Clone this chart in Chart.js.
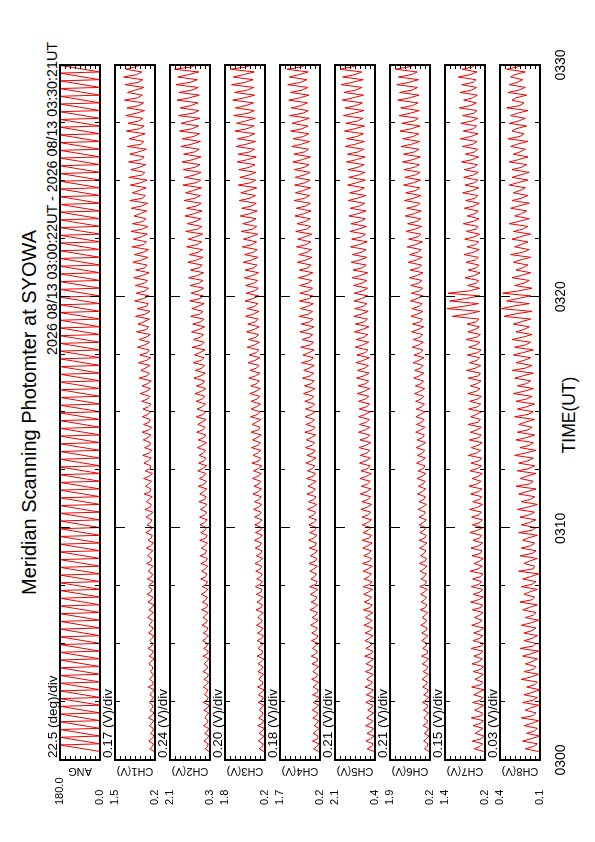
<!DOCTYPE html>
<html>
<head>
<meta charset="utf-8">
<script src="https://cdn.jsdelivr.net/npm/chart.js@4"></script>
<style>
  html, body { margin: 0; padding: 0; background: #fff; }
  body { width: 595px; height: 842px; overflow: hidden; position: relative; }
  /* the plot is laid out in landscape and turned onto the portrait page */
  #page { position: absolute; left: 0; top: 0; width: 842px; height: 595px;
          transform-origin: 0 0; transform: translate(0px, 842px) rotate(-90deg);
          font-family: "Liberation Sans", Arial, sans-serif; color: #000; }
  #page canvas { position: absolute; left: 0; }
  .txt { position: absolute; white-space: nowrap; }
  #title { left: 82px; width: 695px; top: 19px; text-align: center; font-size: 20px; line-height: 20px; }
  #period { left: 0; width: 800px; top: 45px; text-align: right; font-size: 14.3px; line-height: 14.3px; }
  #xtitle { left: 82px; width: 690px; top: 561px; text-align: center; font-size: 17.5px; line-height: 17.5px; }
</style>
</head>
<body>
<div id="page">
  <div class="txt" id="title">Meridian Scanning Photomter at SYOWA</div>
  <div class="txt" id="period">2026 08/13 03:00:22UT - 2026 08/13 03:30:21UT</div>
  <div class="txt" id="xtitle">TIME(UT)</div>
</div>
<script>
// Meridian scanning photometer - 30 min, one sweep every 20 s
const START_SEC = 22;   // first sample 03:00:22
const SWEEP_SEC = 20;
const RAMP_SEC = 17;    // 0 -> 180 deg, then fly back
const PEAK_OFF = 7;     // seconds into the sweep
const BUMP_OFF = 13;

const panelNames = ['ANG', 'CH1(V)', 'CH2(V)', 'CH3(V)', 'CH4(V)', 'CH5(V)', 'CH6(V)', 'CH7(V)', 'CH8(V)'];
const divLabels = ['22.5 (deg)/div', '0.17 (V)/div', '0.24 (V)/div', '0.20 (V)/div', '0.18 (V)/div',
                   '0.21 (V)/div', '0.21 (V)/div', '0.15 (V)/div', '0.03 (V)/div'];
const axisMin = [0.0, 0.2, 0.3, 0.2, 0.2, 0.4, 0.2, 0.2, 0.1];
const axisMax = [180.0, 1.5, 2.1, 1.8, 1.7, 2.1, 1.9, 1.4, 0.4];
const timeTicks = [0, 10, 20, 30];   // minutes after 03:00

// scan angle: start / end of each ramp (deg)
const angTurns = [0,180,0,180,0,180,0,180,0,180,0,180,0,180,0,180,0,180,0,180,
  0,180,0,180,0,180,0,180,0,180,0,180,0,180,0,180,0,180,0,180,
  0,180,0,180,0,180,0,180,0,180,0,180,0,180,0,180,0,180,0,180,
  0,180,0,180,0,180,0,180,0,180,0,180,0,180,0,180,0,180,0,180,
  0,180,0,180,0,180,0,180,0,180,0,180,0,180,0,180,0,180,0,180,
  0,180,0,180,0,180,0,180,0,180,0,180,0,180,0,180,0,180,0,180,
  0,180,0,180,0,180,0,180,0,180,0,180,0,180,0,180,0,180,0,180,
  0,180,0,180,0,180,0,180,0,180,0,180,0,180,0,180,0,180,0,180,
  0,180,0,180,0,180,0,180,0,180,0,180,0,180,0,180,0,180,0,180];

// base (sweep start), peak and secondary bump of each sweep, volts
const ch1Peak = [0.37,0.40,0.35,0.38,0.41,0.36,0.39,0.37,0.42,0.38,0.36,0.40,0.39,0.43,0.37,
  0.41,0.39,0.44,0.40,0.43,0.46,0.41,0.45,0.42,0.47,0.44,0.48,0.43,0.50,0.46,
  0.49,0.53,0.48,0.55,0.51,0.57,0.52,0.56,0.60,0.54,0.58,0.62,0.57,0.61,0.59,
  0.63,0.68,0.62,0.71,0.66,0.74,0.69,0.77,0.72,0.80,0.75,0.83,0.78,0.86,0.81,
  0.84,0.89,0.83,0.92,0.87,0.95,0.90,0.98,0.93,0.88,0.97,1.02,0.94,1.00,1.05,
  0.99,1.06,1.02,1.10,1.04,1.13,1.08,1.15,1.11,1.19,1.09,1.17,1.22,1.14,1.20];
const ch1Bump = [0.29,0.31,0.27,0.30,0.32,0.28,0.31,0.29,0.27,0.31,0.28,0.33,0.29,0.31,0.30,
  0.31,0.33,0.35,0.30,0.32,0.34,0.36,0.31,0.35,0.33,0.37,0.34,0.32,0.36,0.35,
  0.37,0.35,0.40,0.36,0.41,0.38,0.35,0.42,0.39,0.37,0.43,0.40,0.38,0.44,0.41,
  0.44,0.48,0.43,0.46,0.51,0.47,0.45,0.53,0.49,0.47,0.56,0.51,0.48,0.58,0.52,
  0.55,0.60,0.53,0.63,0.58,0.56,0.65,0.61,0.58,0.68,0.63,0.60,0.71,0.66,0.62,
  0.70,0.66,0.74,0.64,0.78,0.70,0.73,0.81,0.72,0.77,0.84,0.75,0.80,0.87,0.78];
const ch1Base = [0.23,0.25,0.22,0.26,0.24,0.23,0.27,0.25,0.22,0.26,0.24,0.28,0.23,0.25,0.27,
  0.24,0.26,0.28,0.25,0.23,0.27,0.29,0.25,0.28,0.26,0.30,0.27,0.25,0.29,0.28,
  0.30,0.27,0.32,0.29,0.33,0.31,0.28,0.34,0.32,0.30,0.35,0.33,0.31,0.36,0.34,
  0.33,0.37,0.35,0.32,0.38,0.36,0.34,0.39,0.37,0.35,0.41,0.38,0.36,0.42,0.39,
  0.41,0.44,0.39,0.46,0.43,0.41,0.48,0.45,0.43,0.50,0.47,0.44,0.52,0.49,0.46,
  0.53,0.50,0.55,0.48,0.57,0.52,0.55,0.59,0.54,0.57,0.61,0.56,0.60,0.63,0.58];

const ch2Peak = [0.52,0.57,0.54,0.59,0.53,0.58,0.61,0.55,0.60,0.57,0.62,0.56,0.61,0.59,0.63,
  0.60,0.66,0.62,0.68,0.64,0.70,0.65,0.72,0.67,0.71,0.74,0.69,0.76,0.72,0.75,
  0.77,0.73,0.80,0.76,0.83,0.78,0.85,0.81,0.79,0.87,0.83,0.90,0.85,0.92,0.88,
  0.93,0.98,0.91,1.02,0.96,1.06,1.00,1.10,1.04,1.13,1.08,1.17,1.12,1.21,1.15,
  1.20,1.26,1.18,1.30,1.24,1.35,1.28,1.39,1.32,1.43,1.36,1.47,1.40,1.52,1.45,
  1.50,1.56,1.49,1.61,1.55,1.67,1.60,1.72,1.64,1.78,1.70,1.83,1.75,1.90,1.82];
const ch2Bump = [0.42,0.45,0.40,0.44,0.46,0.41,0.43,0.45,0.47,0.42,0.45,0.46,0.41,0.44,0.48,
  0.45,0.48,0.50,0.46,0.49,0.52,0.47,0.50,0.53,0.48,0.51,0.54,0.49,0.52,0.55,
  0.53,0.56,0.54,0.59,0.55,0.58,0.62,0.57,0.60,0.64,0.58,0.62,0.66,0.60,0.65,
  0.64,0.68,0.62,0.72,0.66,0.70,0.76,0.68,0.74,0.80,0.71,0.77,0.83,0.74,0.81,
  0.78,0.85,0.79,0.90,0.82,0.88,0.95,0.86,0.93,1.00,0.89,0.97,1.04,0.93,1.01,
  0.98,1.06,0.99,1.12,1.03,1.10,1.18,1.07,1.15,1.23,1.11,1.20,1.28,1.15,1.24];
const ch2Base = [0.35,0.38,0.34,0.37,0.39,0.36,0.35,0.38,0.40,0.36,0.37,0.39,0.35,0.38,0.41,
  0.37,0.39,0.42,0.38,0.40,0.43,0.39,0.41,0.44,0.40,0.42,0.45,0.41,0.43,0.46,
  0.42,0.45,0.43,0.47,0.44,0.46,0.49,0.45,0.48,0.50,0.46,0.49,0.52,0.48,0.51,
  0.50,0.53,0.49,0.55,0.51,0.54,0.57,0.52,0.56,0.59,0.54,0.58,0.61,0.56,0.60,
  0.58,0.62,0.59,0.65,0.61,0.64,0.68,0.63,0.67,0.71,0.65,0.70,0.73,0.68,0.72,
  0.70,0.75,0.71,0.78,0.73,0.77,0.81,0.75,0.80,0.84,0.78,0.83,0.87,0.80,0.85];

const ch3Peak = [0.43,0.47,0.44,0.49,0.45,0.42,0.48,0.46,0.50,0.44,0.49,0.47,0.52,0.48,0.51,
  0.50,0.54,0.49,0.56,0.52,0.55,0.58,0.53,0.57,0.60,0.55,0.59,0.62,0.58,0.61,
  0.61,0.66,0.62,0.68,0.64,0.70,0.66,0.72,0.68,0.74,0.70,0.76,0.72,0.78,0.75,
  0.76,0.81,0.77,0.85,0.80,0.88,0.83,0.91,0.86,0.94,0.89,0.98,0.92,1.00,0.95,
  0.97,1.03,0.99,1.07,1.02,1.11,1.06,1.15,1.09,1.19,1.13,1.23,1.17,1.27,1.21,
  1.25,1.31,1.27,1.36,1.30,1.40,1.34,1.45,1.38,1.49,1.42,1.54,1.47,1.58,1.52];
const ch3Bump = [0.31,0.34,0.32,0.30,0.33,0.35,0.32,0.34,0.31,0.36,0.33,0.35,0.32,0.37,0.34,
  0.34,0.37,0.39,0.35,0.38,0.36,0.40,0.37,0.39,0.42,0.37,0.40,0.43,0.38,0.41,
  0.42,0.46,0.43,0.47,0.44,0.48,0.46,0.43,0.50,0.47,0.51,0.46,0.53,0.49,0.54,
  0.51,0.55,0.52,0.58,0.54,0.60,0.55,0.62,0.57,0.64,0.59,0.66,0.61,0.68,0.62,
  0.64,0.69,0.63,0.73,0.67,0.72,0.77,0.69,0.76,0.81,0.73,0.80,0.85,0.77,0.83,
  0.82,0.89,0.81,0.94,0.86,0.92,0.98,0.88,0.96,1.02,0.91,0.99,1.06,0.95,1.03];
const ch3Base = [0.24,0.27,0.25,0.23,0.26,0.28,0.25,0.27,0.24,0.29,0.26,0.28,0.25,0.30,0.27,
  0.26,0.29,0.31,0.27,0.30,0.28,0.32,0.29,0.31,0.33,0.29,0.32,0.34,0.30,0.33,
  0.32,0.35,0.33,0.36,0.34,0.37,0.35,0.33,0.38,0.36,0.39,0.35,0.40,0.37,0.41,
  0.38,0.41,0.39,0.43,0.40,0.44,0.41,0.45,0.42,0.46,0.43,0.47,0.44,0.48,0.45,
  0.47,0.50,0.46,0.52,0.48,0.51,0.54,0.49,0.53,0.56,0.51,0.55,0.58,0.53,0.57,
  0.56,0.60,0.55,0.62,0.58,0.61,0.64,0.59,0.63,0.66,0.61,0.65,0.68,0.63,0.67];

const ch4Peak = [0.44,0.48,0.45,0.42,0.47,0.49,0.45,0.48,0.46,0.51,0.47,0.50,0.53,0.48,0.52,
  0.51,0.55,0.50,0.57,0.53,0.56,0.59,0.54,0.58,0.61,0.56,0.60,0.63,0.59,0.62,
  0.62,0.67,0.63,0.69,0.65,0.71,0.67,0.73,0.69,0.75,0.71,0.77,0.73,0.76,0.74,
  0.77,0.82,0.78,0.86,0.81,0.89,0.84,0.92,0.87,0.95,0.90,0.98,0.93,0.97,0.95,
  0.96,1.01,0.97,1.05,1.00,1.08,1.03,1.11,1.06,1.14,1.09,1.17,1.12,1.15,1.13,
  1.16,1.22,1.18,1.26,1.21,1.30,1.25,1.34,1.28,1.37,1.31,1.41,1.35,1.44,1.38];
const ch4Bump = [0.32,0.30,0.34,0.31,0.33,0.36,0.32,0.30,0.35,0.33,0.37,0.32,0.36,0.38,0.33,
  0.36,0.40,0.35,0.39,0.37,0.41,0.36,0.40,0.43,0.38,0.41,0.37,0.44,0.40,0.43,
  0.43,0.47,0.42,0.46,0.49,0.45,0.48,0.52,0.46,0.50,0.53,0.47,0.51,0.54,0.50,
  0.53,0.57,0.52,0.56,0.60,0.55,0.61,0.57,0.60,0.64,0.58,0.63,0.66,0.61,0.64,
  0.65,0.69,0.64,0.72,0.68,0.71,0.76,0.70,0.74,0.79,0.72,0.77,0.82,0.75,0.80,
  0.79,0.85,0.77,0.89,0.82,0.87,0.92,0.84,0.90,0.96,0.87,0.93,0.99,0.90,0.96];
const ch4Base = [0.25,0.23,0.27,0.24,0.26,0.28,0.25,0.23,0.27,0.26,0.29,0.25,0.28,0.30,0.26,
  0.28,0.31,0.27,0.30,0.29,0.32,0.28,0.31,0.33,0.30,0.32,0.29,0.34,0.31,0.33,
  0.33,0.36,0.32,0.35,0.37,0.34,0.36,0.39,0.35,0.38,0.40,0.36,0.39,0.41,0.38,
  0.40,0.43,0.39,0.42,0.44,0.41,0.45,0.42,0.44,0.47,0.43,0.46,0.48,0.45,0.47,
  0.48,0.51,0.47,0.53,0.50,0.52,0.55,0.51,0.54,0.57,0.53,0.56,0.59,0.55,0.58,
  0.57,0.61,0.56,0.63,0.59,0.62,0.65,0.60,0.64,0.67,0.62,0.66,0.69,0.64,0.68];

const ch5Peak = [0.73,0.78,0.74,0.80,0.76,0.71,0.79,0.77,0.82,0.75,0.81,0.78,0.84,0.79,0.83,
  0.82,0.87,0.81,0.89,0.85,0.88,0.91,0.86,0.90,0.93,0.88,0.92,0.95,0.91,0.94,
  0.95,1.00,0.96,1.02,0.98,1.04,1.00,1.06,1.02,1.08,1.04,1.10,1.06,1.09,1.07,
  1.10,1.15,1.11,1.18,1.14,1.21,1.17,1.24,1.20,1.27,1.23,1.30,1.26,1.29,1.28,
  1.31,1.37,1.33,1.41,1.36,1.44,1.39,1.47,1.42,1.51,1.45,1.54,1.48,1.56,1.52,
  1.55,1.61,1.57,1.66,1.60,1.70,1.64,1.74,1.68,1.79,1.72,1.84,1.77,1.89,1.82];
const ch5Bump = [0.55,0.59,0.54,0.58,0.61,0.55,0.60,0.56,0.59,0.62,0.57,0.61,0.56,0.60,0.64,
  0.60,0.64,0.66,0.61,0.65,0.68,0.62,0.66,0.69,0.63,0.67,0.70,0.64,0.68,0.71,
  0.69,0.73,0.68,0.75,0.72,0.76,0.70,0.78,0.74,0.79,0.73,0.81,0.77,0.82,0.76,
  0.80,0.85,0.79,0.87,0.83,0.89,0.82,0.92,0.87,0.94,0.85,0.96,0.90,0.98,0.92,
  0.95,1.00,0.93,1.04,0.98,1.06,0.97,1.10,1.02,1.12,1.05,1.15,1.07,1.18,1.10,
  1.13,1.18,1.11,1.23,1.16,1.26,1.14,1.30,1.20,1.34,1.23,1.37,1.25,1.41,1.28];
const ch5Base = [0.45,0.48,0.44,0.47,0.50,0.46,0.49,0.45,0.48,0.51,0.47,0.50,0.46,0.49,0.52,
  0.48,0.51,0.53,0.49,0.52,0.54,0.50,0.53,0.55,0.51,0.54,0.56,0.52,0.55,0.57,
  0.55,0.58,0.54,0.59,0.57,0.60,0.56,0.61,0.59,0.62,0.58,0.63,0.61,0.64,0.60,
  0.63,0.66,0.62,0.67,0.65,0.68,0.64,0.70,0.67,0.71,0.66,0.72,0.69,0.74,0.70,
  0.72,0.75,0.71,0.77,0.74,0.78,0.73,0.80,0.76,0.81,0.78,0.83,0.79,0.85,0.81,
  0.83,0.86,0.82,0.88,0.85,0.89,0.84,0.91,0.87,0.93,0.89,0.95,0.90,0.97,0.92];

const ch6Peak = [0.43,0.47,0.44,0.50,0.46,0.48,0.52,0.47,0.51,0.54,0.49,0.53,0.56,0.51,0.55,
  0.55,0.59,0.54,0.61,0.57,0.60,0.63,0.58,0.62,0.65,0.60,0.64,0.67,0.63,0.66,
  0.66,0.71,0.67,0.73,0.69,0.75,0.71,0.77,0.73,0.79,0.75,0.81,0.77,0.80,0.78,
  0.81,0.86,0.82,0.89,0.85,0.92,0.88,0.95,0.91,0.98,0.94,1.01,0.97,1.03,0.99,
  1.02,1.08,1.04,1.13,1.07,1.17,1.11,1.21,1.15,1.25,1.19,1.29,1.23,1.32,1.27,
  1.31,1.37,1.33,1.42,1.36,1.47,1.40,1.52,1.45,1.57,1.49,1.61,1.54,1.66,1.59];
const ch6Bump = [0.32,0.36,0.31,0.35,0.38,0.33,0.37,0.32,0.36,0.40,0.34,0.38,0.33,0.37,0.41,
  0.38,0.42,0.40,0.39,0.43,0.45,0.40,0.44,0.46,0.41,0.45,0.47,0.42,0.46,0.48,
  0.47,0.51,0.46,0.53,0.49,0.54,0.48,0.56,0.52,0.57,0.51,0.59,0.55,0.60,0.54,
  0.58,0.62,0.56,0.65,0.60,0.67,0.59,0.69,0.63,0.71,0.62,0.73,0.66,0.75,0.65,
  0.69,0.74,0.67,0.78,0.72,0.80,0.71,0.84,0.76,0.86,0.78,0.89,0.80,0.91,0.83,
  0.87,0.92,0.85,0.97,0.90,0.99,0.88,1.04,0.94,1.07,0.96,1.10,0.99,1.13,1.02];
const ch6Base = [0.25,0.28,0.24,0.27,0.30,0.26,0.29,0.25,0.28,0.31,0.27,0.30,0.26,0.29,0.32,
  0.29,0.32,0.34,0.30,0.33,0.35,0.31,0.34,0.36,0.32,0.35,0.37,0.33,0.36,0.38,
  0.36,0.39,0.35,0.40,0.38,0.41,0.37,0.42,0.40,0.43,0.39,0.44,0.42,0.45,0.41,
  0.44,0.47,0.43,0.48,0.46,0.49,0.45,0.50,0.48,0.51,0.47,0.52,0.50,0.53,0.49,
  0.51,0.54,0.50,0.56,0.53,0.57,0.52,0.59,0.55,0.60,0.57,0.62,0.58,0.63,0.60,
  0.62,0.65,0.61,0.67,0.64,0.68,0.63,0.70,0.66,0.71,0.67,0.73,0.69,0.74,0.71];

const ch7Peak = [0.52,0.58,0.49,0.56,0.61,0.51,0.57,0.54,0.60,0.50,0.55,0.59,0.53,0.62,0.56,
  0.54,0.60,0.52,0.58,0.63,0.55,0.61,0.57,0.64,0.53,0.59,0.62,0.56,0.65,0.58,
  0.60,0.66,0.57,0.63,0.68,0.59,0.65,0.62,0.70,0.61,0.67,0.64,0.71,0.63,0.69,
  0.66,0.72,0.64,0.70,0.75,0.67,0.73,0.69,0.77,0.71,0.74,1.18,1.34,1.26,1.31,
  0.72,0.80,0.70,0.77,0.83,0.74,0.81,0.76,0.85,0.73,0.82,0.78,0.87,0.80,0.84,
  0.82,0.90,0.79,0.88,0.94,0.85,0.92,0.87,0.97,0.84,0.95,0.90,1.00,0.88,0.96];
const ch7Bump = [0.35,0.31,0.38,0.33,0.30,0.37,0.34,0.39,0.32,0.36,0.33,0.38,0.35,0.31,0.37,
  0.34,0.39,0.36,0.32,0.40,0.35,0.38,0.33,0.41,0.37,0.34,0.39,0.36,0.42,0.35,
  0.38,0.42,0.36,0.40,0.44,0.39,0.43,0.37,0.45,0.41,0.38,0.44,0.40,0.46,0.42,
  0.41,0.46,0.43,0.39,0.48,0.44,0.42,0.47,0.45,0.50,0.46,0.72,0.85,0.78,0.66,
  0.46,0.51,0.45,0.49,0.54,0.48,0.52,0.47,0.55,0.50,0.53,0.49,0.57,0.52,0.55,
  0.53,0.58,0.51,0.56,0.61,0.55,0.59,0.54,0.63,0.57,0.60,0.56,0.65,0.58,0.62];
const ch7Base = [0.24,0.27,0.23,0.26,0.25,0.28,0.24,0.26,0.23,0.27,0.25,0.24,0.28,0.26,0.25,
  0.27,0.24,0.29,0.26,0.28,0.25,0.27,0.30,0.26,0.28,0.25,0.29,0.27,0.30,0.26,
  0.28,0.31,0.27,0.30,0.29,0.32,0.28,0.31,0.30,0.33,0.29,0.32,0.31,0.34,0.30,
  0.33,0.31,0.35,0.32,0.34,0.33,0.36,0.32,0.35,0.34,0.37,0.38,0.36,0.39,0.35,
  0.36,0.39,0.35,0.38,0.40,0.37,0.39,0.36,0.41,0.38,0.40,0.37,0.42,0.39,0.41,
  0.40,0.43,0.39,0.42,0.44,0.41,0.45,0.42,0.44,0.46,0.43,0.45,0.47,0.44,0.46];

const ch8Peak = [0.21,0.23,0.20,0.22,0.24,0.21,0.23,0.22,0.20,0.24,0.22,0.21,0.23,0.25,0.22,
  0.22,0.24,0.21,0.23,0.25,0.22,0.24,0.23,0.26,0.22,0.25,0.24,0.23,0.26,0.24,
  0.25,0.27,0.24,0.26,0.28,0.25,0.27,0.26,0.29,0.25,0.28,0.27,0.26,0.29,0.27,
  0.28,0.30,0.27,0.29,0.31,0.28,0.30,0.29,0.31,0.28,0.30,0.37,0.39,0.35,0.38,
  0.29,0.31,0.28,0.30,0.32,0.29,0.31,0.30,0.33,0.29,0.32,0.31,0.30,0.33,0.31,
  0.31,0.33,0.30,0.32,0.34,0.31,0.33,0.32,0.35,0.31,0.34,0.33,0.32,0.35,0.34];
const ch8Bump = [0.15,0.17,0.14,0.16,0.15,0.17,0.15,0.16,0.14,0.17,0.15,0.16,0.17,0.15,0.16,
  0.16,0.17,0.15,0.18,0.16,0.18,0.16,0.17,0.15,0.18,0.16,0.17,0.19,0.16,0.18,
  0.18,0.19,0.17,0.20,0.18,0.20,0.18,0.19,0.21,0.18,0.20,0.19,0.21,0.19,0.20,
  0.20,0.22,0.20,0.23,0.21,0.22,0.23,0.21,0.23,0.22,0.24,0.29,0.31,0.27,0.26,
  0.22,0.24,0.23,0.25,0.23,0.24,0.25,0.23,0.26,0.24,0.26,0.24,0.25,0.27,0.25,
  0.24,0.26,0.25,0.27,0.25,0.28,0.26,0.27,0.25,0.28,0.26,0.27,0.29,0.27,0.28];
const ch8Base = [0.11,0.12,0.10,0.12,0.11,0.13,0.11,0.12,0.10,0.12,0.11,0.13,0.12,0.11,0.13,
  0.12,0.13,0.11,0.13,0.12,0.14,0.12,0.13,0.11,0.14,0.12,0.13,0.14,0.12,0.13,
  0.13,0.14,0.12,0.14,0.13,0.15,0.13,0.14,0.15,0.13,0.15,0.14,0.16,0.14,0.15,
  0.14,0.16,0.15,0.17,0.15,0.16,0.17,0.15,0.17,0.16,0.18,0.17,0.16,0.18,0.17,
  0.16,0.18,0.17,0.19,0.17,0.18,0.19,0.17,0.19,0.18,0.20,0.18,0.19,0.21,0.19,
  0.18,0.20,0.19,0.21,0.19,0.22,0.20,0.21,0.19,0.22,0.20,0.21,0.23,0.21,0.22];

const chPeaks = [ch1Peak, ch2Peak, ch3Peak, ch4Peak, ch5Peak, ch6Peak, ch7Peak, ch8Peak];
const chBumps = [ch1Bump, ch2Bump, ch3Bump, ch4Bump, ch5Bump, ch6Bump, ch7Bump, ch8Bump];
const chBases = [ch1Base, ch2Base, ch3Base, ch4Base, ch5Base, ch6Base, ch7Base, ch8Base];

// layout (landscape px)
const PANEL_TOP0 = 60, PANEL_STEP = 55, PANEL_H = 40;
const PAD_TOP = 15, PAD_BOTTOM = 40, PAD_LEFT = 37, YAXIS_W = 45, PAD_RIGHT = 65;
const FONT = '"Liberation Sans", Arial, sans-serif';

function minutes(sec) { return sec / 60; }

function angPoints() {
    return angTurns.map((v, k) => {
        const sweep = Math.floor(k / 2);
        const sec = START_SEC + sweep * SWEEP_SEC + (k % 2 ? RAMP_SEC : 0);
        return { x: minutes(sec), y: v };
    });
}

function channelPoints(peaks, bumps, bases) {
    const pts = [];
    for (let k = 0; k < peaks.length; k++) {
        const t0 = START_SEC + k * SWEEP_SEC;
        pts.push({ x: minutes(t0), y: bases[k] });
        pts.push({ x: minutes(t0 + PEAK_OFF), y: peaks[k] });
        pts.push({ x: minutes(t0 + BUMP_OFF), y: bumps[k] });
    }
    return pts;
}

// frame, inward ticks and panel captions
const framePlugin = {
    id: 'frame',
    afterDatasetsDraw(chart, args, opts) {
        const { ctx, chartArea: a, scales: { x, y } } = chart;
        ctx.save();
        ctx.strokeStyle = '#000';
        ctx.lineWidth = 1;
        ctx.beginPath();
        for (let m = 2.5; m < 30; m += 2.5) {
            const px = Math.round(x.getPixelForValue(m)) + 0.5;
            const len = m % 10 === 0 ? 10 : 5;
            ctx.moveTo(px, a.top); ctx.lineTo(px, a.top + len);
            ctx.moveTo(px, a.bottom); ctx.lineTo(px, a.bottom - len);
        }
        for (let d = 1; d < 8; d++) {
            const py = Math.round(y.getPixelForValue(opts.min + (opts.max - opts.min) * d / 8)) + 0.5;
            ctx.moveTo(a.left, py); ctx.lineTo(a.left + 4, py);
            ctx.moveTo(a.right, py); ctx.lineTo(a.right - 4, py);
        }
        ctx.stroke();
        ctx.lineWidth = 2;
        ctx.strokeRect(a.left, a.top, a.right - a.left, a.bottom - a.top);

        ctx.fillStyle = '#000';
        ctx.font = '13.5px ' + FONT;
        ctx.textAlign = 'left';
        ctx.textBaseline = 'alphabetic';
        ctx.fillText(opts.div, a.left + 2, a.top - 3);

        ctx.font = '11px ' + FONT;
        ctx.translate(a.left - 11, (a.top + a.bottom) / 2);
        ctx.rotate(-Math.PI / 2);
        ctx.textAlign = 'center';
        ctx.textBaseline = 'middle';
        ctx.fillText(opts.title, 0, 0);
        ctx.restore();
    }
};

const page = document.getElementById('page');
const charts = [];

panelNames.forEach((name, i) => {
    const last = i === panelNames.length - 1;
    const canvas = document.createElement('canvas');
    canvas.width = 842;
    canvas.height = PAD_TOP + PANEL_H + PAD_BOTTOM;
    canvas.style.top = (PANEL_TOP0 + i * PANEL_STEP - PAD_TOP) + 'px';
    page.appendChild(canvas);

    const data = i === 0 ? angPoints() : channelPoints(chPeaks[i - 1], chBumps[i - 1], chBases[i - 1]);

    charts.push(new Chart(canvas.getContext('2d'), {
        type: 'line',
        data: {
            datasets: [{ data: data, borderColor: '#ee0000', borderWidth: 1, pointRadius: 0, tension: 0, fill: false }]
        },
        options: {
            responsive: false,
            animation: false,
            events: [],
            layout: { padding: { top: PAD_TOP, left: PAD_LEFT, right: PAD_RIGHT, bottom: 0 } },
            scales: {
                x: {
                    type: 'linear', min: 0, max: 30,
                    grid: { display: false, drawTicks: false },
                    border: { display: false },
                    afterBuildTicks: s => { s.ticks = timeTicks.map(v => ({ value: v })); },
                    afterFit: s => { s.height = PAD_BOTTOM; },
                    ticks: {
                        display: last, autoSkip: false, maxRotation: 0, padding: 13, color: '#000',
                        font: { family: FONT, size: 14 },
                        callback: v => '03' + String(v).padStart(2, '0')
                    }
                },
                y: {
                    min: axisMin[i], max: axisMax[i],
                    grid: { display: false, drawTicks: false },
                    border: { display: false },
                    afterBuildTicks: s => { s.ticks = [{ value: axisMin[i] }, { value: axisMax[i] }]; },
                    afterFit: s => { s.width = YAXIS_W; },
                    ticks: {
                        crossAlign: 'far', color: '#000', font: { family: FONT, size: 11 },
                        callback: v => Number(v).toFixed(1)
                    }
                }
            },
            plugins: {
                legend: { display: false },
                tooltip: { enabled: false },
                frame: { min: axisMin[i], max: axisMax[i], div: divLabels[i], title: name }
            }
        },
        plugins: [framePlugin]
    }));
});
</script>
</body>
</html>
